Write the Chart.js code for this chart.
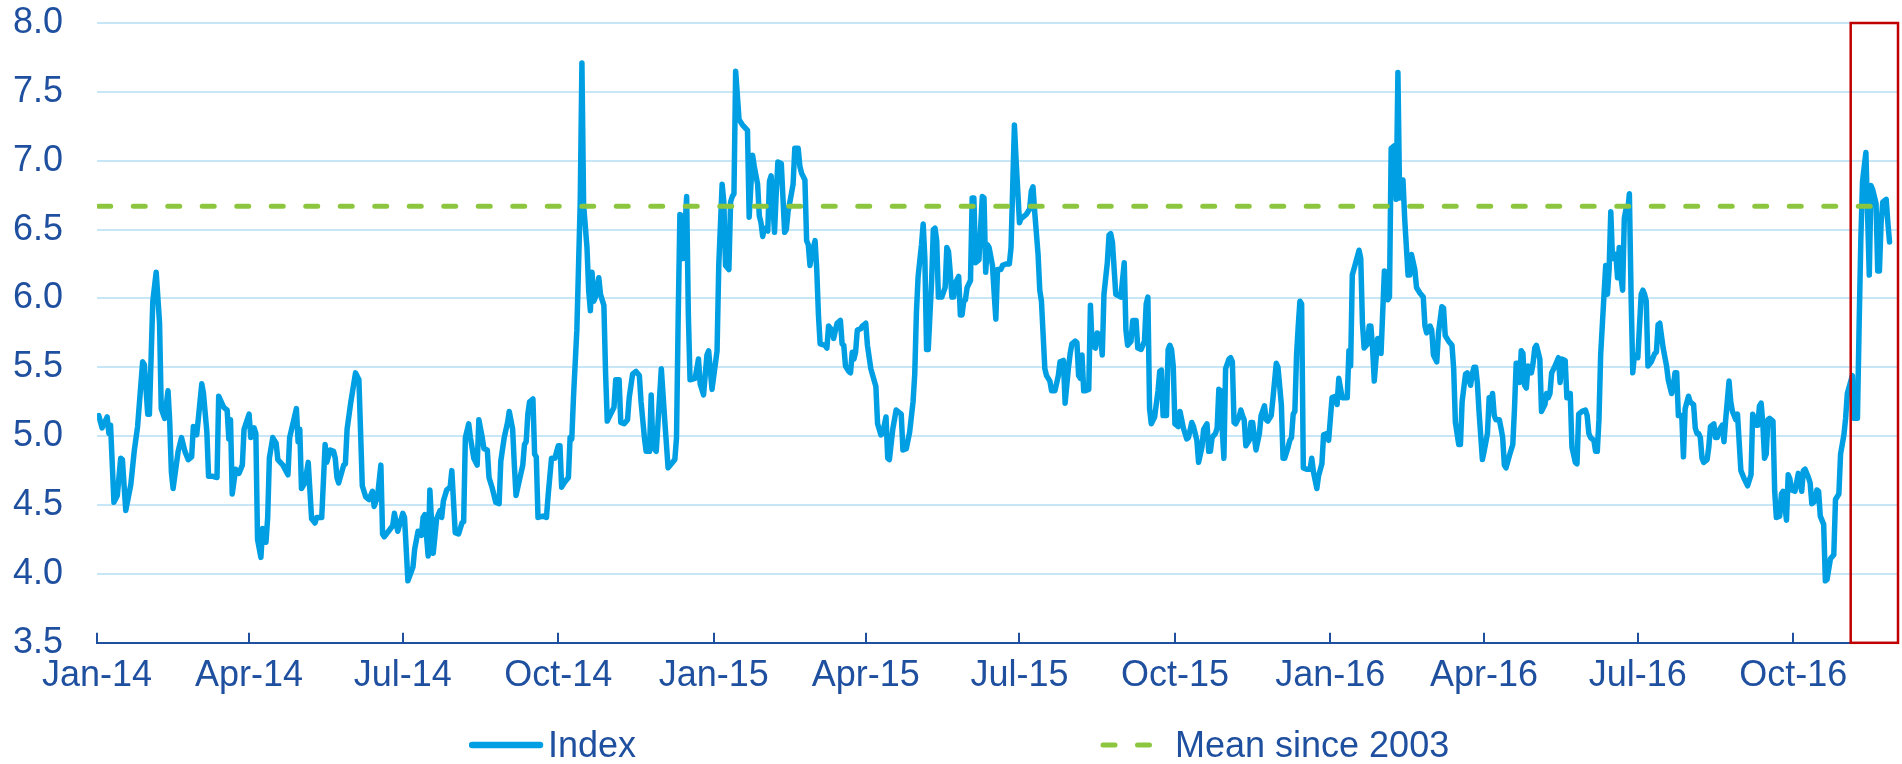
<!DOCTYPE html>
<html>
<head>
<meta charset="utf-8">
<title>Index and mean since 2003</title>
<script src="https://cdn.jsdelivr.net/npm/chart.js@4.4.1/dist/chart.umd.min.js"></script>
<style>
  html, body { margin: 0; padding: 0; background: #fff; }
  #wrap { position: relative; width: 1902px; height: 764px; }
  #chart { position: absolute; left: 0; top: 0; }
  #legend { position: absolute; left: 0; top: 724px; width: 1902px; height: 42px;
            font: 36px 'Liberation Sans', Arial, sans-serif; color: #1f4f9f; }
  .legend-item { position: absolute; top: 0; height: 42px; line-height: 42px;
                 display: flex; align-items: center; white-space: nowrap; }
</style>
</head>
<body>
<div id="wrap">
  <canvas id="chart" width="1902" height="764"></canvas>
  <div id="legend"></div>
</div>
<script>
const NAVY = '#1f4f9f';
const BLUE = '#009fe3';
const GREEN = '#8cc63f';
const GRID = '#c8e7f6';

Chart.defaults.font.family = "'Liberation Sans', Arial, sans-serif";
Chart.defaults.font.size = 36;
Chart.defaults.color = NAVY;

// days counted from 1 Jan 2014
const days = [
  1, 3, 6, 7, 8, 10, 12, 14, 15, 17,
  20, 22, 24, 27, 28, 30, 31, 33, 35, 37,
  38, 40, 42, 43, 44, 45, 48, 50, 52, 54,
  56, 57, 59, 62, 63, 65, 66, 68, 71, 72,
  75, 77, 78, 79, 80, 82, 84, 86, 87, 90,
  91, 93, 94, 95, 97, 98, 100, 101, 102, 104,
  106, 107, 110, 113, 114, 118, 119, 120, 121, 123,
  125, 127, 129, 130, 133, 135, 136, 138, 140, 141,
  142, 143, 146, 147, 148, 150, 153, 155, 157, 159,
  161, 163, 164, 166, 168, 169, 170, 175, 176, 178,
  181, 182, 184, 187, 188, 190, 192, 193, 194, 196,
  197, 199, 201, 203, 204, 205, 207, 209, 210, 212,
  214, 216, 217, 218, 220, 221, 223, 225, 226, 228,
  229, 231, 232, 234, 236, 238, 239, 241, 243, 244,
  246, 247, 248, 250, 252, 253, 254, 255, 256, 258,
  259, 260, 261, 264, 266, 267, 269, 271, 273, 274,
  275, 277, 279, 280, 281, 282, 284, 286, 287, 288,
  290, 291, 292, 293, 294, 295, 297, 298, 300, 301,
  302, 304, 306, 307, 309, 310, 312, 314, 315, 317,
  319, 321, 322, 324, 325, 327, 328, 329, 331, 334,
  336, 338, 340, 342, 343, 344, 345, 346, 347, 349,
  350, 351, 354, 356, 357, 359, 361, 362, 364, 367,
  368, 370, 371, 372, 374, 375, 376, 377, 378, 380,
  382, 385, 386, 388, 389, 391, 392, 393, 394, 395,
  397, 398, 399, 401, 402, 403, 405, 407, 408, 409,
  411, 412, 413, 415, 416, 417, 419, 420, 421, 422,
  423, 425, 426, 427, 428, 431, 432, 433, 435, 436,
  438, 440, 441, 442, 443, 445, 446, 447, 448, 449,
  450, 452, 453, 455, 456, 458, 461, 462, 464, 465,
  467, 468, 469, 471, 473, 476, 477, 479, 481, 483,
  484, 485, 486, 488, 489, 490, 491, 492, 494, 495,
  496, 497, 498, 500, 502, 503, 504, 505, 506, 507,
  508, 510, 511, 512, 513, 514, 515, 517, 518, 519,
  520, 522, 524, 525, 526, 527, 528, 530, 531, 532,
  533, 535, 536, 538, 540, 541, 543, 544, 546, 547,
  550, 552, 553, 554, 555, 557, 558, 559, 561, 562,
  564, 565, 567, 569, 570, 572, 573, 575, 576, 577,
  579, 580, 581, 582, 583, 584, 585, 587, 588, 589,
  591, 592, 594, 595, 596, 598, 599, 600, 601, 603,
  606, 608, 609, 610, 612, 613, 615, 616, 618, 620,
  621, 622, 623, 624, 626, 628, 629, 630, 631, 633,
  634, 635, 636, 637, 638, 640, 641, 643, 645, 646,
  648, 649, 651, 652, 654, 655, 657, 658, 659, 660,
  662, 663, 664, 665, 666, 667, 668, 670, 671, 672,
  673, 674, 676, 677, 678, 679, 680, 682, 683, 684,
  686, 688, 689, 691, 692, 693, 695, 696, 698, 699,
  701, 702, 703, 705, 706, 707, 708, 709, 710, 711,
  712, 713, 714, 716, 718, 719, 720, 722, 723, 725,
  726, 728, 729, 731, 733, 734, 735, 737, 738, 740,
  741, 742, 743, 745, 747, 748, 749, 750, 752, 753,
  754, 755, 756, 758, 759, 760, 762, 763, 764, 765,
  766, 768, 769, 770, 771, 773, 774, 776, 777, 778,
  780, 781, 782, 783, 785, 786, 787, 789, 790, 791,
  793, 794, 796, 797, 798, 800, 802, 803, 804, 806,
  807, 808, 810, 811, 813, 814, 815, 816, 817, 818,
  820, 821, 823, 824, 825, 826, 827, 828, 830, 831,
  832, 833, 834, 836, 838, 839, 840, 841, 842, 843,
  844, 845, 846, 847, 849, 850, 851, 852, 853, 854,
  855, 857, 858, 859, 860, 861, 863, 865, 866, 867,
  869, 870, 871, 872, 873, 875, 876, 877, 879, 881,
  882, 883, 884, 886, 887, 888, 889, 890, 892, 893,
  894, 895, 896, 897, 899, 900, 901, 902, 903, 904,
  905, 906, 907, 908, 909, 910, 912, 914, 915, 916,
  917, 918, 920, 922, 923, 924, 925, 927, 929, 930,
  932, 933, 934, 935, 936, 938, 939, 940, 942, 943,
  945, 946, 947, 948, 949, 950, 951, 953, 954, 955,
  957, 958, 959, 960, 962, 963, 964, 966, 967, 968,
  970, 971, 973, 975, 977, 979, 980, 982, 983, 984,
  985, 986, 987, 988, 989, 990, 992, 993, 994, 996,
  997, 998, 1000, 1001, 1002, 1003, 1005, 1007, 1009, 1010,
  1011, 1013, 1014, 1015, 1017, 1018, 1019, 1020, 1022, 1023,
  1024, 1026, 1028, 1029, 1031, 1032, 1034, 1035, 1036, 1039,
  1040, 1042, 1043, 1044, 1045, 1047, 1048, 1049, 1050, 1051,
  1053, 1054, 1055, 1056, 1057, 1059, 1060, 1061
];

const indexValues = [
  5.15, 5.06, 5.14, 5.02, 5.08, 4.52, 4.57, 4.84, 4.83, 4.46,
  4.65, 4.89, 5.07, 5.54, 5.52, 5.16, 5.16, 5.98, 6.19, 5.82,
  5.20, 5.13, 5.33, 5.11, 4.74, 4.62, 4.89, 4.99, 4.89, 4.83,
  4.85, 5.07, 5.01, 5.38, 5.31, 5.03, 4.71, 4.71, 4.70, 5.29,
  5.21, 5.19, 4.98, 5.12, 4.58, 4.76, 4.73, 4.79, 5.05, 5.16,
  4.99, 5.06, 5.02, 4.25, 4.12, 4.33, 4.23, 4.41, 4.84, 4.99,
  4.95, 4.83, 4.79, 4.72, 4.99, 5.20, 4.96, 5.05, 4.62, 4.66,
  4.81, 4.40, 4.37, 4.41, 4.41, 4.94, 4.81, 4.90, 4.89, 4.84,
  4.70, 4.66, 4.79, 4.80, 5.05, 5.23, 5.46, 5.41, 4.64, 4.56,
  4.54, 4.60, 4.49, 4.56, 4.79, 4.29, 4.27, 4.35, 4.44, 4.31,
  4.44, 4.41, 3.95, 4.05, 4.18, 4.31, 4.28, 4.41, 4.43, 4.13,
  4.61, 4.15, 4.40, 4.46, 4.41, 4.53, 4.61, 4.63, 4.75, 4.30,
  4.29, 4.37, 4.38, 4.99, 5.09, 4.99, 4.84, 4.79, 5.12, 4.99,
  4.91, 4.90, 4.70, 4.62, 4.52, 4.51, 4.82, 4.99, 5.10, 5.18,
  5.05, 4.79, 4.57, 4.68, 4.79, 4.94, 4.96, 5.16, 5.25, 5.27,
  4.87, 4.85, 4.41, 4.42, 4.41, 4.57, 4.84, 4.84, 4.93, 4.93,
  4.63, 4.67, 4.70, 4.99, 4.98, 5.28, 5.77, 6.70, 7.71, 6.68,
  6.37, 6.06, 5.91, 6.19, 5.98, 6.01, 6.15, 6.03, 5.95, 5.46,
  5.11, 5.16, 5.21, 5.41, 5.41, 5.10, 5.09, 5.12, 5.28, 5.45,
  5.47, 5.44, 5.25, 4.99, 4.89, 4.89, 5.30, 4.92, 4.89, 5.49,
  5.12, 4.77, 4.80, 4.83, 4.99, 5.88, 6.61, 6.60, 6.29, 6.74,
  5.88, 5.41, 5.42, 5.56, 5.38, 5.30, 5.59, 5.62, 5.34, 5.62,
  6.24, 6.83, 6.70, 6.24, 6.21, 6.70, 6.74, 6.76, 7.65, 7.30,
  7.26, 7.22, 6.59, 7.04, 6.96, 6.83, 6.60, 6.55, 6.45, 6.51,
  6.49, 6.85, 6.89, 6.48, 6.76, 6.99, 6.98, 6.48, 6.50, 6.63,
  6.76, 6.83, 7.09, 7.09, 6.96, 6.91, 6.86, 6.42, 6.39, 6.24,
  6.32, 6.42, 6.21, 5.88, 5.67, 5.66, 5.64, 5.80, 5.77, 5.71,
  5.82, 5.84, 5.67, 5.66, 5.51, 5.47, 5.46, 5.61, 5.56, 5.61,
  5.77, 5.78, 5.80, 5.82, 5.66, 5.49, 5.36, 5.09, 5.01, 5.02,
  5.14, 4.84, 4.83, 5.05, 5.19, 5.16, 4.90, 4.91, 5.03, 5.25,
  5.45, 5.90, 6.16, 6.39, 6.54, 6.29, 5.63, 5.63, 6.13, 6.50,
  6.51, 6.42, 6.01, 6.01, 6.08, 6.37, 6.34, 6.19, 6.01, 6.01,
  6.11, 6.16, 5.88, 5.88, 5.98, 5.99, 6.08, 6.13, 6.73, 6.73,
  6.26, 6.28, 6.74, 6.73, 6.19, 6.39, 6.37, 6.24, 6.04, 5.85,
  6.21, 6.21, 6.24, 6.25, 6.25, 6.37, 7.26, 7.00, 6.55, 6.58,
  6.61, 6.65, 6.78, 6.81, 6.63, 6.32, 6.06, 5.98, 5.49, 5.44,
  5.40, 5.33, 5.33, 5.44, 5.54, 5.55, 5.24, 5.50, 5.60, 5.67,
  5.69, 5.68, 5.44, 5.42, 5.59, 5.33, 5.33, 5.34, 5.95, 5.66,
  5.64, 5.75, 5.73, 5.59, 6.03, 6.26, 6.46, 6.47, 6.41, 6.03,
  6.01, 6.26, 5.77, 5.66, 5.69, 5.84, 5.84, 5.64, 5.63, 5.69,
  5.96, 6.01, 5.20, 5.09, 5.14, 5.33, 5.47, 5.48, 5.15, 5.15,
  5.63, 5.66, 5.63, 5.51, 5.09, 5.07, 5.18, 5.06, 4.98, 4.99,
  5.10, 5.07, 4.97, 4.81, 4.92, 5.05, 5.09, 4.89, 4.89, 4.99,
  5.02, 5.06, 5.34, 5.33, 5.05, 4.84, 5.49, 5.56, 5.57, 5.54,
  5.10, 5.09, 5.14, 5.19, 5.15, 5.12, 4.93, 4.97, 5.10, 5.10,
  4.90, 5.02, 5.15, 5.22, 5.12, 5.11, 5.15, 5.27, 5.53, 5.50,
  5.23, 4.84, 4.84, 4.92, 4.97, 4.99, 5.16, 5.18, 5.59, 5.80,
  5.98, 5.96, 4.77, 4.76, 4.76, 4.84, 4.74, 4.62, 4.71, 4.80,
  5.01, 5.02, 4.97, 5.28, 5.29, 5.23, 5.42, 5.28, 5.28, 5.28,
  5.62, 5.51, 6.17, 6.26, 6.35, 6.29, 5.82, 5.64, 5.67, 5.80,
  5.80, 5.64, 5.40, 5.71, 5.71, 5.60, 6.20, 6.19, 5.99, 6.01,
  7.09, 7.11, 6.72, 7.64, 6.73, 6.86, 6.58, 6.17, 6.17, 6.32,
  6.21, 6.08, 6.06, 6.04, 6.01, 5.80, 5.75, 5.80, 5.77, 5.59,
  5.54, 5.75, 5.94, 5.93, 5.73, 5.69, 5.66, 5.49, 5.10, 4.94,
  4.94, 5.25, 5.45, 5.46, 5.37, 5.45, 5.50, 5.50, 5.39, 5.18,
  4.83, 4.89, 5.02, 5.28, 5.25, 5.31, 5.15, 5.12, 5.12, 5.06,
  4.99, 4.79, 4.77, 4.86, 4.94, 5.20, 5.53, 5.53, 5.39, 5.62,
  5.60, 5.37, 5.35, 5.51, 5.46, 5.53, 5.64, 5.66, 5.61, 5.56,
  5.18, 5.23, 5.31, 5.28, 5.31, 5.46, 5.51, 5.57, 5.39, 5.56,
  5.55, 5.28, 5.31, 5.31, 4.92, 4.81, 4.80, 5.16, 5.18, 5.19,
  5.15, 5.02, 4.99, 4.97, 4.89, 4.89, 5.12, 5.59, 6.03, 6.24,
  6.03, 6.21, 6.63, 6.29, 6.32, 6.15, 6.37, 6.16, 6.06, 6.58,
  6.65, 6.63, 6.76, 6.03, 5.46, 5.59, 5.57, 6.03, 6.06, 6.03,
  5.98, 5.51, 5.54, 5.60, 5.61, 5.81, 5.82, 5.64, 5.51, 5.41,
  5.31, 5.36, 5.46, 5.46, 5.15, 5.15, 4.85, 5.20, 5.29, 5.25,
  5.23, 5.06, 5.02, 5.02, 4.99, 4.84, 4.81, 4.83, 4.92, 5.07,
  5.09, 4.99, 4.99, 5.04, 5.08, 4.96, 5.12, 5.40, 5.25, 5.18,
  5.12, 5.16, 4.75, 4.69, 4.64, 4.72, 5.16, 5.08, 5.08, 5.22,
  5.24, 5.09, 4.84, 4.87, 5.12, 5.13, 5.11, 4.60, 4.41, 4.42,
  4.58, 4.60, 4.39, 4.72, 4.69, 4.61, 4.60, 4.73, 4.60, 4.75,
  4.76, 4.70, 4.66, 4.51, 4.53, 4.61, 4.60, 4.42, 4.36, 3.95,
  3.96, 4.11, 4.14, 4.54, 4.58, 4.87, 5.01, 5.13, 5.31, 5.44,
  5.13, 5.13, 5.81, 6.43, 6.85, 7.06, 6.61, 6.17, 6.82, 6.79,
  6.69, 6.20, 6.20, 6.55, 6.70, 6.72, 6.55, 6.41
];

const meanSince2003 = 6.67;

const tickLabels = ['Jan-14', 'Apr-14', 'Jul-14', 'Oct-14', 'Jan-15', 'Apr-15',
                    'Jul-15', 'Oct-15', 'Jan-16', 'Apr-16', 'Jul-16', 'Oct-16'];

const START = Date.UTC(2014, 0, 1);
const dayOf = (y, m, d) => Math.round((Date.UTC(y, m - 1, d) - START) / 86400000);

// quarter starts for the x ticks, and the highlighted last weeks
const tickDays = tickLabels.map((_, i) => dayOf(2014, 1 + 3 * i, 1));
const axisEnd = dayOf(2016, 12, 2);
const highlightFrom = dayOf(2016, 11, 4);

// red frame round the latest weeks
const highlightBox = {
    id: 'highlightBox',
    afterDatasetsDraw(chart) {
        const { ctx, scales: { x, y } } = chart;
        const left = x.getPixelForValue(highlightFrom);
        const right = x.getPixelForValue(axisEnd);
        const top = y.getPixelForValue(y.max);
        const bottom = y.getPixelForValue(y.min);
        ctx.save();
        ctx.strokeStyle = '#c00000';
        ctx.lineWidth = 2.5;
        ctx.strokeRect(left, top, right - left, bottom - top);
        ctx.restore();
    }
};

const chart = new Chart(document.getElementById('chart'), {
    type: 'line',
    data: {
        datasets: [{
            label: 'Index',
            data: days.map((d, i) => ({ x: d, y: indexValues[i] })),
            borderColor: BLUE,
            borderWidth: 5.5,
            borderJoinStyle: 'round',
            borderCapStyle: 'round',
            pointRadius: 0,
            order: 2
        }, {
            label: 'Mean since 2003',
            data: [{ x: days[0], y: meanSince2003 }, { x: days[days.length - 1], y: meanSince2003 }],
            borderColor: GREEN,
            borderWidth: 5,
            borderDash: [12, 22.5],
            borderCapStyle: 'round',
            pointRadius: 0,
            order: 1
        }]
    },
    options: {
        responsive: false,
        animation: false,
        devicePixelRatio: 1,
        layout: { padding: { left: 13, right: 4, top: 23, bottom: 66 } },
        plugins: {
            legend: { display: false },
            tooltip: { enabled: false }
        },
        scales: {
            x: {
                type: 'linear',
                min: 0,
                max: axisEnd,
                afterBuildTicks: axis => { axis.ticks = tickDays.map(value => ({ value })); },
                // Chart.js counts the tick padding twice when sizing the axis
                afterFit: axis => { axis.height -= axis.options.ticks.padding; },
                ticks: {
                    autoSkip: false,
                    maxRotation: 0,
                    padding: 22,
                    callback: (value, i) => tickLabels[i]
                },
                grid: { drawOnChartArea: false, tickLength: -10, color: NAVY, lineWidth: 2 },
                border: { display: true, color: NAVY, width: 2 }
            },
            y: {
                min: 3.5,
                max: 8,
                afterFit: axis => {
                    axis.width -= axis.options.ticks.padding;
                    axis.paddingTop = 0;
                    axis.paddingBottom = 0;
                },
                ticks: {
                    stepSize: 0.5,
                    padding: 34,
                    callback: v => v.toFixed(1)
                },
                grid: { color: GRID, lineWidth: 2, drawTicks: false },
                border: { display: false }
            }
        }
    },
    plugins: [highlightBox]
});

// legend below the axis, built from the datasets
const legendSpots = [{ left: 469, sample: 76, gap: 3 }, { left: 1100, sample: 58, gap: 17 }];
const legendEl = document.getElementById('legend');
chart.data.datasets.forEach((ds, i) => {
    const spot = legendSpots[i];
    const item = document.createElement('div');
    item.className = 'legend-item';
    item.style.left = spot.left + 'px';

    const sample = document.createElement('canvas');
    sample.width = spot.sample;
    sample.height = 12;
    const g = sample.getContext('2d');
    g.strokeStyle = ds.borderColor;
    g.lineWidth = ds.borderDash ? ds.borderWidth : ds.borderWidth + 1;
    g.lineCap = 'round';
    g.setLineDash(ds.borderDash || []);
    g.beginPath();
    g.moveTo(3, 6);
    g.lineTo(spot.sample - 5, 6);
    g.stroke();

    const text = document.createElement('span');
    text.textContent = ds.label;
    text.style.marginLeft = spot.gap + 'px';

    item.append(sample, text);
    legendEl.appendChild(item);
});
</script>
</body>
</html>
